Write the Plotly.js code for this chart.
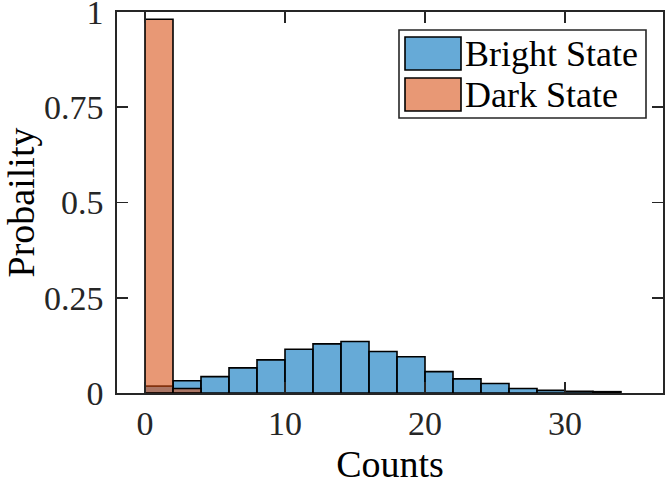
<!DOCTYPE html>
<html>
<head>
<meta charset="utf-8">
<script src="https://cdn.plot.ly/plotly-3.0.1.min.js"></script>
<style>
  html, body { margin: 0; padding: 0; background: #fff; }
  #myDiv { width: 665px; height: 486px; }
</style>
</head>
<body>
<div id="myDiv"></div>
<script>
// histogram bins (left edges), width 2 counts
var binWidth = 2;
var brightStart = [0, 2, 4, 6, 8, 10, 12, 14, 16, 18, 20, 22, 24, 26, 28, 30, 32];
var brightProb = [0.018, 0.032, 0.043, 0.066, 0.087, 0.115, 0.129, 0.135, 0.109,
                  0.095, 0.056, 0.037, 0.025, 0.012, 0.007, 0.0045, 0.0035];
var darkStart = [0, 2];
var darkProb = [0.981, 0.012];

var seriesNames = ['Bright State', 'Dark State'];
var seriesFill = ['rgba(0,114,189,0.6)', 'rgba(217,83,25,0.6)'];

var yTicks = [0, 0.25, 0.5, 0.75, 1];
var yTickText = ['0', '0.25', '0.5', '0.75', '1'];
var xTicks = [0, 10, 20, 30];

var axisColor = '#262626';
var serif = 'Liberation Serif, Times New Roman, serif';

var trace1 = {
  x: brightStart,
  y: brightProb,
  type: 'bar',
  width: binWidth,
  offset: 0,
  name: seriesNames[0],
  marker: { color: seriesFill[0], line: { color: '#000', width: 1.6 } },
  hoverinfo: 'x+y'
};

var trace2 = {
  x: darkStart,
  y: darkProb,
  type: 'bar',
  width: binWidth,
  offset: 0,
  name: seriesNames[1],
  marker: { color: seriesFill[1], line: { color: '#000', width: 1.6 } },
  hoverinfo: 'x+y'
};

// plot area in pixels (used for the hand-drawn legend box)
var L = 117, R = 2, T = 12, B = 93, W = 665, H = 486;
var pw = W - L - R, ph = H - T - B;
function px(x) { return (x - L) / pw; }
function py(y) { return (H - B - y) / ph; }

// legend drawn as shapes so the swatches match the big MATLAB ones
var shapes = [
  { type: 'rect', xref: 'paper', yref: 'paper', x0: px(399), x1: px(646), y0: py(118), y1: py(30),
    fillcolor: '#fff', line: { color: axisColor, width: 1.6 } }
];
var annotations = [];
var rowTop = [37, 78];
for (var i = 0; i < seriesNames.length; i++) {
  shapes.push({ type: 'rect', xref: 'paper', yref: 'paper',
    x0: px(405), x1: px(461), y0: py(rowTop[i] + 33), y1: py(rowTop[i]),
    fillcolor: seriesFill[i], line: { color: '#000', width: 1.6 } });
  annotations.push({ xref: 'paper', yref: 'paper', x: px(463), y: py(rowTop[i] + 17),
    xanchor: 'left', yanchor: 'middle', showarrow: false, text: seriesNames[i],
    font: { family: serif, size: 36, color: '#000' } });
}

var data = [trace1, trace2];
var layout = {
  width: W,
  height: H,
  margin: { l: L, r: R, t: T, b: B, pad: 0 },
  barmode: 'overlay',
  showlegend: false,
  plot_bgcolor: '#fff',
  paper_bgcolor: '#fff',
  font: { family: serif, size: 34, color: axisColor },
  xaxis: {
    range: [-2, 37],
    tickvals: xTicks,
    ticks: 'inside',
    ticklen: 11,
    tickwidth: 1.6,
    tickcolor: axisColor,
    ticklabelstandoff: 0,
    showline: true,
    linecolor: axisColor,
    linewidth: 1.6,
    mirror: 'allticks',
    showgrid: false,
    zeroline: false,
    title: { text: 'Counts', font: { family: serif, size: 38, color: '#000' }, standoff: 9 }
  },
  yaxis: {
    range: [0, 1],
    tickvals: yTicks,
    ticktext: yTickText,
    ticks: 'inside',
    ticklen: 11,
    tickwidth: 1.6,
    tickcolor: axisColor,
    ticklabelstandoff: 5,
    ticklabeloverflow: 'allow',
    showline: true,
    linecolor: axisColor,
    linewidth: 1.6,
    mirror: 'allticks',
    showgrid: false,
    zeroline: false,
    title: { text: 'Probaility', font: { family: serif, size: 38, color: '#000' }, standoff: 8 }
  },
  shapes: shapes,
  annotations: annotations
};

Plotly.newPlot('myDiv', data, layout, { displayModeBar: false, staticPlot: true });
</script>
</body>
</html>
